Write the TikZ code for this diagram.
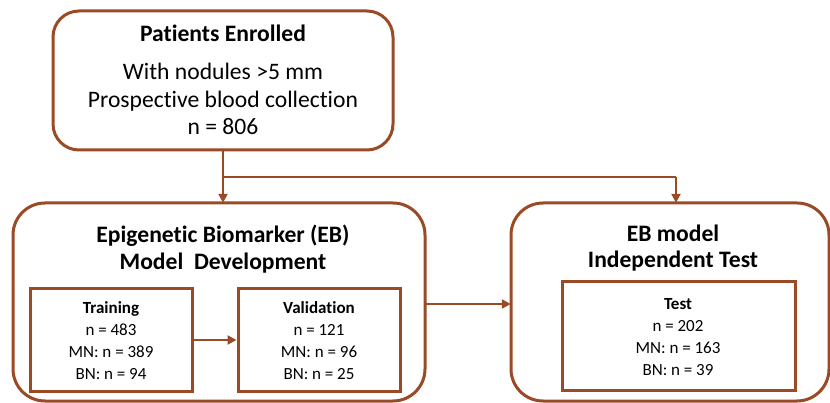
\documentclass[tikz,border=0pt]{standalone}
\usepackage{fontspec}
\setmainfont{Carlito}[Ligatures=NoCommon]
\usetikzlibrary{arrows.meta}
\definecolor{brn}{HTML}{9A4A24}
\begin{document}
\begin{tikzpicture}[x=1pt,y=-1pt,
  rbox/.style={draw=brn,line width=3pt,rounded corners=#1},
  sbox/.style={draw=brn,line width=3pt},
  conn/.style={draw=brn,line width=2.8pt,-{Triangle[length=9pt,width=9pt]}},
  big/.style={font=\fontsize{23.6}{27.5}\selectfont,align=center},
  title/.style={font=\fontsize{23.6}{26.5}\selectfont\bfseries,align=center},
  small/.style={font=\fontsize{17}{22}\selectfont,align=center}]
\useasboundingbox (0,0) rectangle (830,403);
% boxes
\draw[rbox=26pt] (53,11) rectangle (393,150);
\node (top) at (223,80.5) [minimum width=340pt,minimum height=139pt] {};
\draw[rbox=32pt] (13,203) rectangle (425,401);
\node (dev) at (219,302) [minimum width=412pt,minimum height=198pt] {};
\draw[rbox=32pt] (511,203) rectangle (829,401);
\node (ind) at (670,302) [minimum width=318pt,minimum height=198pt] {};
\node[sbox,minimum width=162pt,minimum height=102pt] (tr) at (111,340) {};
\node[sbox,minimum width=162pt,minimum height=102pt] (va) at (319,340) {};
\node[sbox,minimum width=233pt,minimum height=108pt] (te) at (678.5,336) {};
% texts
\node[title] at (223,33) {Patients Enrolled};
\node[big] at (223,99) {With nodules >5 mm\\Prospective blood collection\\n = 806};
\node[title] at (223,249) {Epigenetic Biomarker (EB)\\Model\ \ Development};
\node[title] at (673,248) {EB model\\Independent Test};
\node[small] at (111,341) {\bfseries Training\\n = 483\\MN: n = 389\\BN: n = 94};
\node[small] at (319,341) {\bfseries Validation\\n = 121\\MN: n = 96\\BN: n = 25};
\node[small] at (678,337) {\bfseries Test\\n = 202\\MN: n = 163\\BN: n = 39};
% connectors
\coordinate (j) at (223,177);
\draw[conn] (top.south -| j) -- (dev.north -| j);
\draw[brn,line width=2.8pt] (j) -- (676,177);
\draw[conn] (676,177) -- (ind.north -| 676,0);
\draw[conn] (tr.east) -- (va.west);
\draw[conn] (dev.east |- 0,304) -- (ind.west |- 0,304);
\end{tikzpicture}
\end{document}
